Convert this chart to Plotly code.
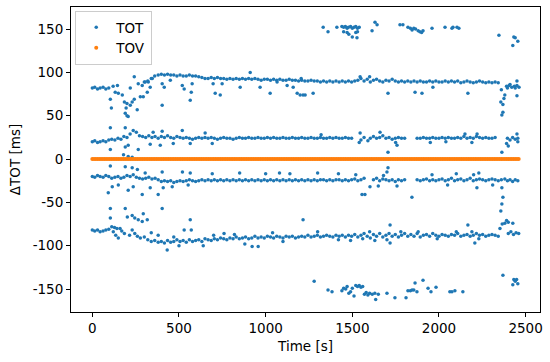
import plotly.graph_objects as go

# ---------------- data ----------------
# TOT band near +85..+97 ms  (time [s], dTOT [ms])
band_a = [
    (0, 82), (14, 83), (30, 81), (45, 82), (62, 83), (78, 81), (95, 82),
    (300, 89), (320, 90), (340, 93), (360, 96), (380, 97), (398, 98), (416, 97), (434, 98), (452, 97),
    (470, 97), (488, 96), (506, 97), (524, 96), (542, 96), (560, 97), (578, 96), (596, 96), (614, 95),
    (632, 94), (650, 93), (668, 93), (686, 94), (704, 93), (722, 94), (740, 93), (758, 93), (776, 92),
    (794, 93), (812, 92), (830, 93), (848, 92), (866, 93), (884, 92), (902, 93), (920, 92), (938, 93),
    (956, 92), (974, 91), (992, 92), (1010, 92), (1028, 91), (1046, 92), (1064, 91), (1082, 92),
    (1100, 91), (1118, 91), (1136, 92), (1154, 91), (1172, 91), (1190, 90), (1208, 91), (1226, 90),
    (1244, 90), (1262, 91), (1280, 90), (1298, 90), (1316, 89), (1334, 90), (1352, 89), (1370, 90),
    (1388, 89), (1406, 90), (1424, 89), (1442, 90), (1460, 89), (1478, 90), (1496, 89), (1514, 90),
    (1532, 91), (1550, 93), (1568, 90), (1586, 92), (1604, 89), (1622, 91), (1640, 92), (1658, 90),
    (1676, 89), (1694, 91), (1712, 90), (1730, 92), (1748, 90), (1766, 89), (1784, 90), (1802, 89),
    (1820, 90), (1838, 89), (1856, 90), (1874, 89), (1892, 90), (1910, 89), (1928, 89), (1946, 90),
    (1964, 89), (1982, 90), (2000, 89), (2018, 89), (2036, 90), (2054, 89), (2072, 90), (2090, 89),
    (2108, 90), (2126, 88), (2144, 89), (2162, 90), (2180, 89), (2198, 88), (2216, 89), (2234, 90),
    (2252, 89), (2270, 88), (2288, 89), (2306, 88), (2324, 89), (2342, 88), (2390, 84), (2405, 85),
    (2420, 83), (2435, 84), (2450, 85), (2462, 83),
]
scatter_a = [
    (104, 69), (110, 59), (120, 84), (132, 77), (145, 85), (150, 76), (173, 74), (185, 66), (190, 53),
    (195, 59), (200, 64), (207, 49), (200, 50), (219, 62), (219, 82), (230, 66), (242, 69), (242, 95),
    (259, 57), (265, 87), (277, 72), (288, 85), (294, 72), (305, 89), (317, 77), (323, 89), (334, 83),
    (346, 93), (403, 87), (403, 62), (415, 83), (450, 91), (519, 85), (530, 81), (565, 68), (571, 77),
    (576, 87), (697, 87), (709, 76), (738, 74), (749, 87), (853, 83), (911, 100), (968, 83), (1026, 76),
    (1066, 89), (1124, 85), (1159, 83), (1182, 76), (1199, 74), (1205, 93), (1228, 74), (1216, 74),
    (1274, 76), (1545, 95), (1600, 95), (1706, 76), (1862, 77), (1902, 76), (1965, 83), (2167, 76),
    (2380, 74), (2375, 70), (2357, 66), (2369, 63), (2369, 54), (2363, 51), (2450, 73), (2450, 90),
    (2360, 80), (2395, 82), (2410, 86), (2440, 82),
]

# TOT band near +20..+35 ms
band_b = [
    (0, 20), (14, 21), (30, 19), (45, 20), (62, 21), (78, 20), (95, 22), (112, 23), (130, 22), (148, 24),
    (165, 23), (182, 26), (200, 25), (218, 29), (236, 33), (254, 31), (272, 27), (290, 26), (308, 25),
    (326, 27), (344, 25), (362, 26), (380, 24), (398, 26), (416, 25), (434, 27), (452, 25), (470, 24),
    (488, 26), (506, 25), (524, 24), (542, 25), (560, 24), (578, 23), (596, 24), (614, 25), (632, 24),
    (650, 25), (668, 24), (686, 25), (704, 24), (722, 23), (740, 24), (758, 25), (776, 24), (794, 24),
    (812, 23), (830, 24), (848, 25), (866, 24), (884, 24), (902, 25), (920, 24), (938, 24), (956, 25),
    (974, 24), (992, 24), (1010, 25), (1028, 24), (1046, 25), (1064, 24), (1082, 24), (1100, 25),
    (1118, 24), (1136, 24), (1154, 25), (1172, 24), (1190, 24), (1208, 25), (1226, 24), (1244, 24),
    (1262, 25), (1280, 24), (1298, 24), (1316, 25), (1334, 24), (1352, 24), (1370, 25), (1388, 24),
    (1406, 25), (1424, 24), (1442, 24), (1460, 25), (1478, 24), (1496, 24), (1550, 22), (1568, 25),
    (1604, 24), (1622, 26), (1640, 24), (1658, 25), (1676, 27), (1694, 24), (1712, 25), (1730, 23),
    (1748, 24), (1766, 25), (1784, 24), (1802, 24), (1874, 24), (1892, 24), (1910, 25), (1928, 24),
    (1946, 24), (1964, 25), (1982, 24), (2000, 24), (2018, 25), (2036, 24), (2054, 25), (2072, 24),
    (2090, 24), (2108, 25), (2126, 24), (2144, 26), (2162, 24), (2180, 25), (2198, 24), (2216, 26),
    (2234, 25), (2252, 24), (2270, 25), (2288, 24), (2306, 24), (2324, 25), (2395, 24), (2410, 22),
    (2425, 25), (2440, 23), (2455, 24),
]
scatter_b = [
    (104, 36), (190, 36), (351, 31), (403, 32), (519, 33), (651, 30), (104, 11), (207, 16), (190, 14),
    (265, 11), (334, 17), (392, 16), (467, 18), (565, 18), (692, 18), (207, 3), (230, 2), (180, 5),
    (1706, 8), (2363, 8), (1758, 16), (1545, 30), (1660, 31), (2220, 29), (2150, 29), (1320, 28),
    (2390, 18), (2400, 15), (2450, 29), (2455, 20), (1540, 19), (1590, 21), (1750, 19), (2040, 20),
    (2190, 19), (1950, 19),
]

# TOT band near -20..-25 ms
band_c = [
    (0, -20), (14, -21), (30, -19), (45, -20), (62, -21), (78, -19), (95, -20), (112, -22), (130, -21),
    (148, -20), (165, -22), (182, -21), (200, -19), (218, -20), (236, -18), (254, -21), (272, -22),
    (290, -23), (308, -22), (326, -21), (344, -23), (362, -22), (380, -24), (398, -26), (416, -25),
    (434, -26), (452, -25), (470, -27), (488, -26), (506, -25), (524, -26), (542, -25), (560, -24),
    (578, -25), (596, -26), (614, -25), (632, -24), (650, -25), (668, -24), (686, -25), (704, -24),
    (722, -25), (740, -24), (758, -25), (776, -24), (794, -25), (812, -24), (830, -25), (848, -24),
    (866, -25), (884, -24), (902, -25), (920, -24), (938, -25), (956, -24), (974, -25), (992, -24),
    (1010, -25), (1028, -24), (1046, -25), (1064, -24), (1082, -25), (1100, -24), (1118, -25),
    (1136, -24), (1154, -25), (1172, -24), (1190, -25), (1208, -24), (1226, -25), (1244, -24),
    (1262, -25), (1280, -24), (1298, -25), (1316, -24), (1334, -24), (1352, -25), (1370, -24),
    (1388, -25), (1406, -24), (1424, -24), (1442, -25), (1460, -24), (1478, -25), (1496, -24),
    (1514, -23), (1532, -25), (1550, -24), (1568, -22), (1622, -24), (1640, -22), (1658, -25),
    (1676, -23), (1694, -24), (1712, -25), (1730, -24), (1748, -26), (1766, -24), (1784, -25),
    (1802, -24), (1874, -24), (1892, -25), (1910, -24), (1928, -23), (1946, -25), (1964, -24),
    (1982, -25), (2000, -24), (2018, -23), (2036, -25), (2054, -24), (2072, -22), (2090, -25),
    (2108, -24), (2126, -23), (2144, -25), (2162, -24), (2180, -22), (2198, -25), (2216, -24),
    (2234, -23), (2252, -24), (2270, -25), (2288, -24), (2306, -23), (2324, -24), (2342, -25),
    (2360, -24), (2380, -23), (2395, -25), (2410, -24), (2425, -26), (2440, -24), (2455, -25),
]
scatter_c = [
    (104, -8), (190, -9), (230, -10), (260, -12), (305, -16), (403, -15), (520, -15), (565, -16),
    (692, -17), (92, -39), (115, -32), (150, -30), (207, -36), (236, -32), (288, -41), (334, -33),
    (380, -41), (409, -33), (461, -32), (553, -30), (1556, -41), (1573, -41), (1602, -32), (1706, -10),
    (1844, -44), (1758, -31), (2219, -33), (2363, -33), (2369, -44), (2363, -52), (2357, -60),
    (850, -16), (1000, -17), (1080, -16), (1140, -17), (1300, -16), (1420, -17), (1520, -18),
    (1680, -19), (1700, -15), (1960, -18), (2100, -17), (2200, -18), (2230, -16), (2310, -30),
    (1650, -31), (2050, -30),
]

# TOT band near -85..-95 ms
band_d = [
    (0, -82), (14, -83), (30, -82), (45, -84), (62, -83), (78, -82), (95, -81),
    (300, -90), (320, -93), (340, -95), (360, -94), (380, -96), (398, -95), (416, -97), (434, -94),
    (452, -96), (470, -95), (488, -93), (506, -95), (524, -94), (542, -96), (560, -93), (578, -95),
    (596, -94), (614, -93), (632, -95), (650, -92), (668, -93), (686, -94), (704, -92), (722, -93),
    (740, -91), (758, -92), (776, -93), (794, -91), (812, -92), (830, -90), (848, -92), (866, -91),
    (884, -90), (902, -92), (920, -91), (938, -89), (956, -91), (974, -90), (992, -91), (1010, -89),
    (1028, -90), (1046, -91), (1064, -89), (1082, -90), (1100, -91), (1118, -89), (1136, -90),
    (1154, -89), (1172, -91), (1190, -90), (1208, -89), (1226, -90), (1244, -88), (1262, -90),
    (1280, -89), (1298, -88), (1316, -90), (1334, -89), (1352, -88), (1370, -89), (1388, -90),
    (1406, -88), (1424, -89), (1442, -88), (1460, -90), (1478, -88), (1496, -89), (1514, -87),
    (1532, -90), (1550, -88), (1568, -86), (1586, -89), (1604, -91), (1622, -87), (1640, -89),
    (1658, -86), (1676, -90), (1694, -88), (1712, -86), (1730, -89), (1748, -87), (1766, -90),
    (1784, -88), (1802, -86), (1820, -89), (1838, -87), (1856, -89), (1874, -86), (1892, -90),
    (1910, -88), (1928, -87), (1946, -89), (1964, -86), (1982, -88), (2000, -89), (2018, -87),
    (2036, -88), (2054, -89), (2072, -87), (2090, -88), (2108, -86), (2126, -89), (2144, -88),
    (2162, -87), (2180, -89), (2198, -88), (2216, -86), (2234, -88), (2252, -87), (2270, -89),
    (2288, -88), (2306, -87), (2324, -88), (2342, -89), (2400, -86), (2415, -84), (2430, -87),
    (2445, -85), (2460, -86),
]
scatter_d = [
    (104, -57), (104, -68), (190, -57), (202, -67), (230, -65), (245, -68), (265, -70), (288, -72),
    (294, -63), (317, -70), (403, -57), (121, -84), (135, -88), (150, -91), (112, -78), (128, -79),
    (142, -80), (160, -80), (230, -82), (245, -86), (260, -89), (277, -91), (432, -105), (530, -82),
    (565, -70), (571, -82), (922, -101), (957, -101), (1216, -70), (1718, -76), (2167, -76),
    (2352, -80), (2365, -75), (2380, -74), (2390, -71), (2400, -73), (2426, -74), (2207, -97),
    (1718, -97), (1300, -84), (1420, -93), (1490, -94), (1560, -92), (1600, -84), (1630, -94),
    (1700, -93), (1780, -84), (1880, -84), (1990, -92), (2100, -84), (2190, -84), (2230, -92),
    (170, -83), (185, -86), (215, -88), (340, -85), (380, -88), (470, -90), (500, -100), (640, -100),
    (700, -88), (760, -86), (820, -87), (880, -98), (1040, -85), (1100, -95),
]

# TOT groups near +150 and -150 ms
group_e = [
    (1332, 152), (1360, 147), (1411, 152), (1440, 153), (1450, 152), (1460, 153), (1470, 151),
    (1478, 152), (1490, 153), (1500, 151), (1510, 152), (1520, 153), (1530, 151), (1540, 152),
    (1450, 147), (1470, 146), (1480, 144), (1500, 141), (1520, 146), (1530, 147), (1527, 140),
    (1614, 148), (1631, 158), (1643, 155), (1775, 155), (1792, 155), (1821, 152), (1835, 151),
    (1845, 149), (1855, 151), (1865, 150), (1880, 148), (1890, 147), (1900, 146), (1908, 148),
    (1960, 151), (2035, 152), (2075, 151), (2081, 152), (2104, 152), (2115, 151), (2346, 143),
    (2426, 131), (2432, 141), (2440, 140), (2455, 136),
]
group_f = [
    (1280, -141), (1360, -151), (1383, -153), (1440, -152), (1450, -149), (1462, -150), (1470, -147),
    (1480, -155), (1490, -153), (1500, -149), (1510, -158), (1520, -146), (1530, -147), (1540, -146),
    (1550, -148), (1560, -147), (1570, -156), (1580, -154), (1590, -157), (1600, -155), (1615, -156),
    (1630, -155), (1635, -162), (1650, -156), (1700, -155), (1746, -160), (1810, -160), (1821, -152),
    (1835, -152), (1845, -151), (1855, -151), (1873, -153), (1862, -143), (1908, -140), (1937, -149),
    (1954, -153), (1983, -148), (2063, -153), (2075, -153), (2092, -152), (2138, -153), (2369, -134),
    (2426, -145), (2432, -139), (2440, -141), (2448, -139), (2455, -144),
]

# TOV: flat at 0 ms, sampled densely over the whole run
tov_t = [
    0, 10, 20, 30, 40, 50, 60, 70, 80, 90, 100, 110, 120, 130, 140, 150, 160, 170, 180, 190,
    200, 210, 220, 230, 240, 250, 260, 270, 280, 290, 300, 310, 320, 330, 340, 350, 360, 370, 380, 390,
    400, 410, 420, 430, 440, 450, 460, 470, 480, 490, 500, 510, 520, 530, 540, 550, 560, 570, 580, 590,
    600, 610, 620, 630, 640, 650, 660, 670, 680, 690, 700, 710, 720, 730, 740, 750, 760, 770, 780, 790,
    800, 810, 820, 830, 840, 850, 860, 870, 880, 890, 900, 910, 920, 930, 940, 950, 960, 970, 980, 990,
    1000, 1010, 1020, 1030, 1040, 1050, 1060, 1070, 1080, 1090, 1100, 1110, 1120, 1130, 1140, 1150, 1160, 1170, 1180, 1190,
    1200, 1210, 1220, 1230, 1240, 1250, 1260, 1270, 1280, 1290, 1300, 1310, 1320, 1330, 1340, 1350, 1360, 1370, 1380, 1390,
    1400, 1410, 1420, 1430, 1440, 1450, 1460, 1470, 1480, 1490, 1500, 1510, 1520, 1530, 1540, 1550, 1560, 1570, 1580, 1590,
    1600, 1610, 1620, 1630, 1640, 1650, 1660, 1670, 1680, 1690, 1700, 1710, 1720, 1730, 1740, 1750, 1760, 1770, 1780, 1790,
    1800, 1810, 1820, 1830, 1840, 1850, 1860, 1870, 1880, 1890, 1900, 1910, 1920, 1930, 1940, 1950, 1960, 1970, 1980, 1990,
    2000, 2010, 2020, 2030, 2040, 2050, 2060, 2070, 2080, 2090, 2100, 2110, 2120, 2130, 2140, 2150, 2160, 2170, 2180, 2190,
    2200, 2210, 2220, 2230, 2240, 2250, 2260, 2270, 2280, 2290, 2300, 2310, 2320, 2330, 2340, 2350, 2360, 2370, 2380, 2390,
    2400, 2410, 2420, 2430, 2440, 2450, 2460,
]
tov_v = [
    0, 0, 0, 0, 0, 0, 0, 0, 0, 0, 0, 0, 0, 0, 0, 0, 0, 0, 0, 0,
    0, 0, 0, 0, 0, 0, 0, 0, 0, 0, 0, 0, 0, 0, 0, 0, 0, 0, 0, 0,
    0, 0, 0, 0, 0, 0, 0, 0, 0, 0, 0, 0, 0, 0, 0, 0, 0, 0, 0, 0,
    0, 0, 0, 0, 0, 0, 0, 0, 0, 0, 0, 0, 0, 0, 0, 0, 0, 0, 0, 0,
    0, 0, 0, 0, 0, 0, 0, 0, 0, 0, 0, 0, 0, 0, 0, 0, 0, 0, 0, 0,
    0, 0, 0, 0, 0, 0, 0, 0, 0, 0, 0, 0, 0, 0, 0, 0, 0, 0, 0, 0,
    0, 0, 0, 0, 0, 0, 0, 0, 0, 0, 0, 0, 0, 0, 0, 0, 0, 0, 0, 0,
    0, 0, 0, 0, 0, 0, 0, 0, 0, 0, 0, 0, 0, 0, 0, 0, 0, 0, 0, 0,
    0, 0, 0, 0, 0, 0, 0, 0, 0, 0, 0, 0, 0, 0, 0, 0, 0, 0, 0, 0,
    0, 0, 0, 0, 0, 0, 0, 0, 0, 0, 0, 0, 0, 0, 0, 0, 0, 0, 0, 0,
    0, 0, 0, 0, 0, 0, 0, 0, 0, 0, 0, 0, 0, 0, 0, 0, 0, 0, 0, 0,
    0, 0, 0, 0, 0, 0, 0, 0, 0, 0, 0, 0, 0, 0, 0, 0, 0, 0, 0, 0,
    0, 0, 0, 0, 0, 0, 0,
]

x_tickvals = [0, 500, 1000, 1500, 2000, 2500]
x_ticktext = ["0", "500", "1000", "1500", "2000", "2500"]
y_tickvals = [-150, -100, -50, 0, 50, 100, 150]
y_ticktext = ["-150", "-100", "-50", "0", "50", "100", "150"]

# ---------------- figure ----------------
tot_all = band_a + scatter_a + band_b + scatter_b + band_c + scatter_c + band_d + scatter_d + group_e + group_f
tot_x = [p[0] for p in tot_all]
tot_y = [p[1] for p in tot_all]

fig = go.Figure()
fig.add_trace(go.Scatter(x=tot_x, y=tot_y, mode="markers", name="TOT",
                         marker=dict(color="#1f77b4", size=3.5, line=dict(width=0))))
fig.add_trace(go.Scatter(x=tov_t, y=tov_v, mode="markers", name="TOV",
                         marker=dict(color="#ff7f0e", size=4, line=dict(width=0))))

FS = 13.5
axis_common = dict(showgrid=False, zeroline=False, showline=True, linecolor="black", linewidth=1,
                   mirror=True, ticks="outside", ticklen=4, tickwidth=1, tickcolor="black",
                   automargin=False,
                   tickfont=dict(family="DejaVu Sans", size=FS, color="black"))

fig.update_layout(
    width=550, height=362,
    margin=dict(l=71, r=10, t=7, b=50, autoexpand=False),
    paper_bgcolor="white", plot_bgcolor="white",
    font=dict(family="DejaVu Sans", size=FS, color="black"),
    xaxis=dict(range=[-123, 2583], tickvals=x_tickvals, ticktext=x_ticktext,
               title=dict(text="Time [s]", font=dict(size=FS), standoff=6), **axis_common),
    yaxis=dict(range=[-176.5, 175.5], tickvals=y_tickvals, ticktext=y_ticktext,
               title=dict(text="ΔTOT [ms]", font=dict(size=FS), standoff=8), **axis_common),
    legend=dict(x=0.009, y=0.987, xanchor="left", yanchor="top", bgcolor="white",
                bordercolor="#cccccc", borderwidth=1, font=dict(size=FS),
                itemsizing="trace", tracegroupgap=0),
    showlegend=True,
)

fig.write_html("out.html", config={"displayModeBar": False},
               post_script="document.body.style.margin='0px';document.body.style.overflow='hidden';")
